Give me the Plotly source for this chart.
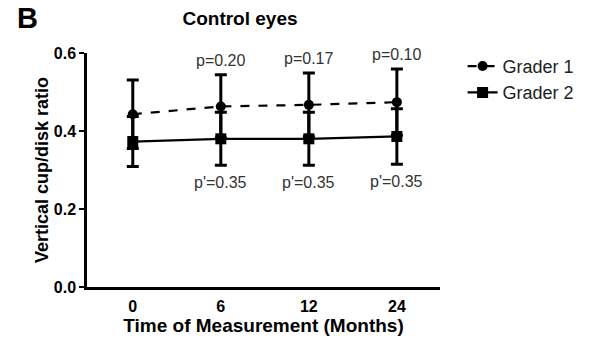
import plotly.graph_objects as go

# Time points (months) and per-grader cup/disk ratio summaries
months = ["0", "6", "12", "24"]
grader1_mean = [0.443, 0.463, 0.467, 0.474]
grader1_sd = [0.088, 0.081, 0.082, 0.085]
grader2_mean = [0.373, 0.380, 0.380, 0.386]
grader2_sd = [0.064, 0.068, 0.068, 0.071]
p_grader1 = ["", "p=0.20", "p=0.17", "p=0.10"]
p_grader2 = ["", "p'=0.35", "p'=0.35", "p'=0.35"]

xpos = list(range(len(months)))
FONT = "Liberation Sans, Arial, sans-serif"

fig = go.Figure()

fig.add_trace(go.Scatter(
    x=xpos, y=grader1_mean, name="Grader 1", mode="lines+markers",
    line=dict(color="black", width=2.2, dash="dash"),
    marker=dict(symbol="circle", size=10, color="black"),
    error_y=dict(type="data", array=grader1_sd, color="black", thickness=3, width=6),
))
fig.add_trace(go.Scatter(
    x=xpos, y=grader2_mean, name="Grader 2", mode="lines+markers",
    line=dict(color="black", width=2.2),
    marker=dict(symbol="square", size=11, color="black"),
    error_y=dict(type="data", array=grader2_sd, color="black", thickness=3, width=6),
))

annotations = []
for i in xpos:
    if p_grader1[i]:
        annotations.append(dict(
            x=i, y=grader1_mean[i] + grader1_sd[i], xref="x", yref="y",
            text=p_grader1[i], showarrow=False, yanchor="bottom", yshift=4,
            font=dict(family=FONT, size=16, color="#333333"),
        ))
    if p_grader2[i]:
        annotations.append(dict(
            x=i, y=grader2_mean[i] - grader2_sd[i], xref="x", yref="y",
            text=p_grader2[i], showarrow=False, yanchor="top", yshift=-7,
            font=dict(family=FONT, size=16, color="#333333"),
        ))

# panel label
annotations.append(dict(
    x=(15 - 87) / 353, y=1 + (53 - 18) / 234, xref="paper", yref="paper",
    text="<b>B</b>", showarrow=False, xanchor="left", yanchor="middle",
    font=dict(family=FONT, size=29, color="black"),
))

fig.update_layout(
    width=598, height=347,
    margin=dict(l=87, r=158, t=53, b=60),
    paper_bgcolor="white", plot_bgcolor="white",
    font=dict(family=FONT, color="black"),
    title=dict(text="<b>Control eyes</b>", x=240 / 598, xanchor="center",
               y=1 - 18 / 347, yanchor="middle",
               font=dict(family=FONT, size=19, color="black")),
    showlegend=True,
    legend=dict(x=1.064, y=1.022, xanchor="left", yanchor="top",
                font=dict(family=FONT, size=18, color="#222222"),
                bgcolor="rgba(0,0,0,0)", tracegroupgap=2),
    annotations=annotations,
)

fig.update_xaxes(
    range=[-0.52, 3.49], tickvals=xpos, ticktext=[f"<b>{m}</b>" for m in months],
    showline=True, linecolor="black", linewidth=2.5, ticks="", showgrid=False,
    zeroline=False, tickfont=dict(family=FONT, size=16, color="black"),
    ticklabelstandoff=3,
    title=dict(text="<b>Time of Measurement (Months)</b>", standoff=2,
               font=dict(family=FONT, size=19, color="black")),
)
fig.update_yaxes(
    range=[0, 0.6], tickvals=[0, 0.2, 0.4, 0.6],
    ticktext=["<b>0.0</b>", "<b>0.2</b>", "<b>0.4</b>", "<b>0.6</b>"],
    showline=True, linecolor="black", linewidth=2.5, ticks="outside",
    ticklen=5, tickwidth=2, tickcolor="black", showgrid=False, zeroline=False,
    tickfont=dict(family=FONT, size=16, color="black"),
    title=dict(text="<b>Vertical cup/disk ratio</b>", standoff=1,
               font=dict(family=FONT, size=18, color="black")),
)

fig.write_html("out.html")
